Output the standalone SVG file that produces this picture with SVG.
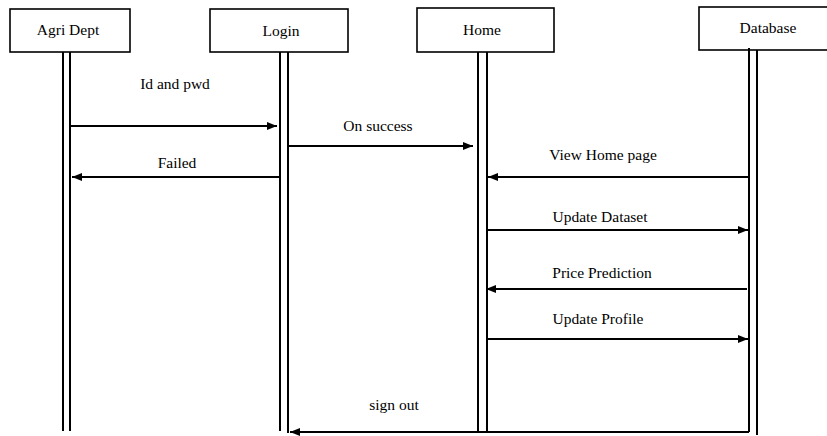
<svg xmlns="http://www.w3.org/2000/svg" width="827" height="436" viewBox="0 0 827 436">
<style>
.box{fill:#fff;stroke:#000;stroke-width:1.6}
.life{stroke:#000;stroke-width:2;fill:none}
.msg{stroke:#000;stroke-width:2;fill:none;marker-end:url(#ah)}
.t{font-family:'Liberation Serif','DejaVu Serif',serif;font-size:15.5px;fill:#000;text-anchor:middle}
</style>
<defs>
<marker id="ah" viewBox="0 0 10 8" refX="10" refY="4" markerWidth="10" markerHeight="8" markerUnits="userSpaceOnUse" orient="auto">
<path d="M0,0 L10,4 L0,8 Z" fill="#000"/>
</marker>
</defs>
<rect width="827" height="436" fill="#fff"/>
<g id="agri">
<rect class="box" x="10" y="9" width="120" height="43"/>
<text class="t" x="68" y="35">Agri Dept</text>
<line class="life" x1="63" y1="52" x2="63" y2="431"/>
<line class="life" x1="70" y1="52" x2="70" y2="431"/>
</g>
<g id="login">
<rect class="box" x="210" y="9" width="138" height="43"/>
<text class="t" x="281" y="36">Login</text>
<line class="life" x1="280" y1="52" x2="280" y2="431"/>
<line class="life" x1="288" y1="52" x2="288" y2="433"/>
</g>
<g id="home">
<rect class="box" x="417" y="8" width="137" height="44"/>
<text class="t" x="482" y="35">Home</text>
<line class="life" x1="478" y1="52" x2="478" y2="432"/>
<line class="life" x1="487" y1="52" x2="487" y2="432"/>
</g>
<g id="database">
<rect class="box" x="699" y="7" width="132" height="43"/>
<text class="t" x="768" y="33">Database</text>
<line class="life" x1="749" y1="48" x2="749" y2="432"/>
<line class="life" x1="757" y1="50" x2="757" y2="435"/>
</g>
<g id="connectors">
<line class="msg" x1="70" y1="126" x2="277" y2="126"/>
<text class="t" x="175" y="89">Id and pwd</text>
<line class="msg" x1="288" y1="146" x2="473" y2="146"/>
<text class="t" x="378" y="131">On success</text>
<line class="msg" x1="280" y1="177" x2="72" y2="177"/>
<text class="t" x="177" y="168">Failed</text>
<line class="msg" x1="749" y1="177" x2="488" y2="177"/>
<text class="t" x="603" y="160">View Home page</text>
<line class="msg" x1="487" y1="230" x2="748" y2="230"/>
<text class="t" x="600" y="222">Update Dataset</text>
<line class="msg" x1="747" y1="289" x2="486" y2="289"/>
<text class="t" x="602" y="278">Price Prediction</text>
<line class="msg" x1="487" y1="339" x2="748" y2="339"/>
<text class="t" x="598" y="324">Update Profile</text>
<line class="msg" x1="749" y1="432" x2="290" y2="432"/>
<text class="t" x="394" y="410">sign out</text>
</g>
</svg>
